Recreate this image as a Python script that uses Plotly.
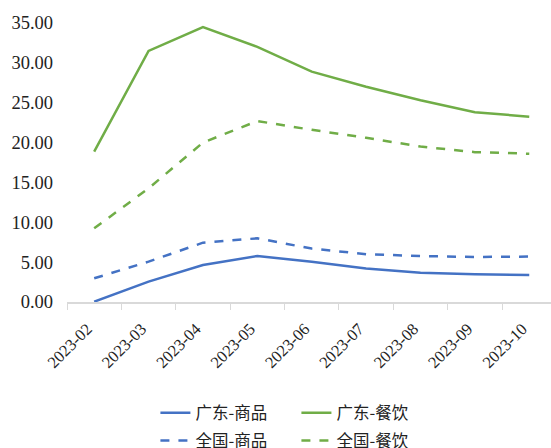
import plotly.graph_objects as go

months = ["2023-02", "2023-03", "2023-04", "2023-05", "2023-06",
          "2023-07", "2023-08", "2023-09", "2023-10"]
gd_goods = [0.04, 2.55, 4.64, 5.77, 5.06, 4.20, 3.68, 3.47, 3.39]
gd_food = [18.86, 31.5, 34.5, 32.0, 28.9, 27.0, 25.3, 23.8, 23.25]
cn_goods = [2.97, 5.06, 7.44, 7.99, 6.70, 6.00, 5.77, 5.65, 5.70]
cn_food = [9.24, 14.26, 20.0, 22.7, 21.6, 20.6, 19.5, 18.8, 18.6]

BLUE = "#4472C4"
GREEN = "#70AD47"

fig = go.Figure()
fig.add_trace(go.Scatter(x=months, y=gd_goods, name="广东-商品", mode="lines",
                         line=dict(color=BLUE, width=2.5), legend="legend"))
fig.add_trace(go.Scatter(x=months, y=gd_food, name="广东-餐饮", mode="lines",
                         line=dict(color=GREEN, width=2.5), legend="legend"))
fig.add_trace(go.Scatter(x=months, y=cn_goods, name="全国-商品", mode="lines",
                         line=dict(color=BLUE, width=2.5, dash="dash"), legend="legend2"))
fig.add_trace(go.Scatter(x=months, y=cn_food, name="全国-餐饮", mode="lines",
                         line=dict(color=GREEN, width=2.5, dash="dash"), legend="legend2"))

legend_common = dict(orientation="h", xanchor="center", x=0.474, yanchor="middle",
                     font=dict(family="Noto Sans CJK SC", size=16.5, color="#222"),
                     entrywidth=96, entrywidthmode="pixels", bgcolor="rgba(0,0,0,0)",
                     traceorder="normal")

fig.update_layout(
    width=551, height=448,
    margin=dict(l=67, r=0, t=23, b=146, autoexpand=False),
    paper_bgcolor="white", plot_bgcolor="white",
    showlegend=True,
    legend=dict(y=-0.398, **legend_common),
    legend2=dict(y=-0.497, **legend_common),
    xaxis=dict(type="category", range=[-0.5, 8.4], showgrid=False, showline=True,
               linecolor="#D9D9D9", linewidth=1.5, ticks="outside", tickson="boundaries",
               ticklen=6, tickcolor="#D9D9D9", tickangle=-45,
               ticklabelstandoff=9, ticklabelshift=-7,
               tickfont=dict(family="Liberation Serif", size=16.5, color="#222")),
    yaxis=dict(range=[0, 35], dtick=5, tickformat=".2f", showgrid=False, showline=False,
               zeroline=False, ticklabelstandoff=13,
               tickfont=dict(family="Liberation Serif", size=18.5, color="#222")),
)

fig.write_html("out.html", config={"displayModeBar": False},
               post_script="document.body.style.margin='0';document.body.style.padding='0';")
